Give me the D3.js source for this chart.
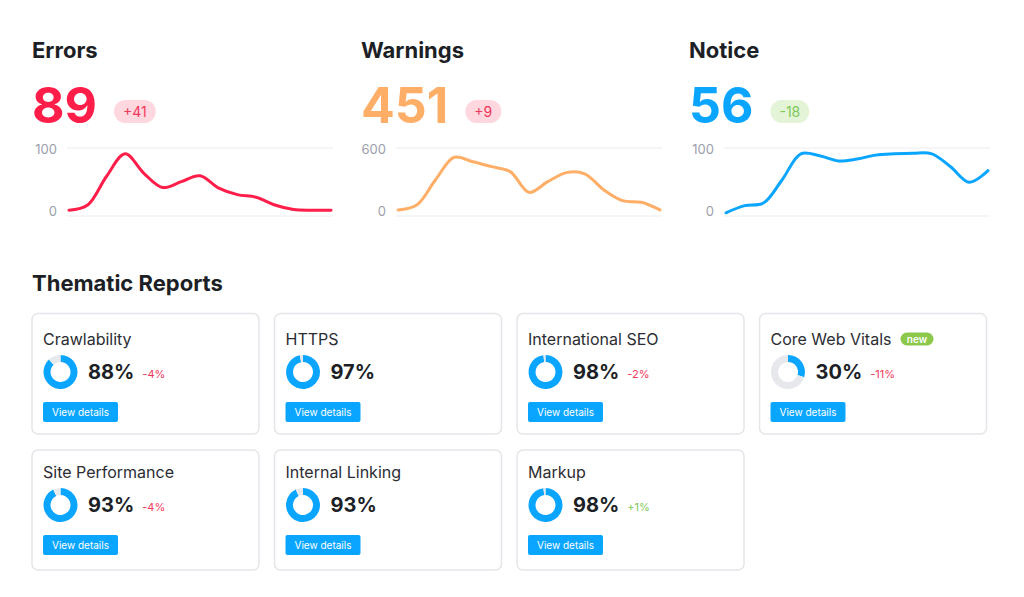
<!DOCTYPE html>
<html>
<head>
<meta charset="utf-8">
<script src="https://cdn.jsdelivr.net/npm/d3@7"></script>
<style>
  html, body { margin: 0; padding: 0; background: #fff; }
  svg { display: block; font-family: Inter, "Noto Sans", sans-serif; }
</style>
</head>
<body>
<svg id="chart" width="1024" height="597"></svg>
<script>
// Site audit overview: issue counters with trends + thematic report cards

const sections = ['Errors', 'Warnings', 'Notice'];
const totals = [89, 451, 56];
const totalDeltas = ['+41', '+9', '-18'];
const axisMax = [100, 600, 100];
const sectionColors = ['#ff1d4a', '#ffae68', '#0aa5ff'];

const errorsTrend = [4, 12, 56, 91, 61, 39, 48, 57, 38, 28, 24, 12, 5, 4, 4];
const warningsTrend = [26, 72, 304, 514, 473, 427, 381, 189, 288, 372, 359, 211, 112, 97, 26];
const noticeTrend = [0, 11, 15, 51, 91, 88, 80, 83, 89, 91, 92, 91, 71, 47, 65];
const trends = [errorsTrend, warningsTrend, noticeTrend];

const reportNames = ['Crawlability', 'HTTPS', 'International SEO', 'Core Web Vitals',
  'Site Performance', 'Internal Linking', 'Markup'];
const reportScores = [88, 97, 98, 30, 93, 93, 98];
const reportDeltas = ['-4%', '', '-2%', '-11%', '-4%', '', '+1%'];
const newReports = ['Core Web Vitals'];

const svg = d3.select('#chart');
svg.append('rect').attr('width', 1024).attr('height', 597).attr('fill', '#fff');

// верхние три блока
const colX = [32, 361, 689];

sections.forEach((name, i) => {
  const col = colX[i];
  const g = svg.append('g');

  g.append('text')
    .attr('x', col).attr('y', 57.5)
    .attr('font-size', 22).attr('font-weight', 700)
    .attr('fill', '#1d1f26')
    .text(name);

  const big = g.append('text')
    .attr('x', col).attr('y', 123)
    .attr('font-size', 50).attr('font-weight', 700)
    .attr('fill', sectionColors[i])
    .text(totals[i]);

  const bigW = big.node().getComputedTextLength();
  const positive = totalDeltas[i].startsWith('+');
  const badge = g.append('g').attr('transform', `translate(${col + bigW + 17}, 100)`);
  const badgeText = badge.append('text')
    .attr('x', 9).attr('y', 11.5).attr('dy', '0.36em')
    .attr('font-size', 14)
    .attr('fill', positive ? '#f0385a' : '#7fc85a')
    .text(totalDeltas[i]);
  const tw = badgeText.node().getComputedTextLength();
  badge.insert('rect', 'text')
    .attr('width', tw + 18).attr('height', 23).attr('rx', 11.5)
    .attr('fill', positive ? '#ffd7de' : '#e3f4d7');

  // мини-график
  const data = trends[i];
  const x = d3.scaleLinear().domain([0, data.length - 1]).range([col + 37, col + 299]);
  const y = d3.scaleLinear().domain([-axisMax[i] * 0.05, axisMax[i]]).range([216, 148]);

  g.append('line')
    .attr('x1', col + 35).attr('x2', col + 301)
    .attr('y1', y(axisMax[i])).attr('y2', y(axisMax[i]))
    .attr('stroke', '#ebecf0').attr('stroke-width', 1);
  g.append('line')
    .attr('x1', col + 35).attr('x2', col + 301)
    .attr('y1', y.range()[0]).attr('y2', y.range()[0])
    .attr('stroke', '#ebecf0').attr('stroke-width', 1);

  g.selectAll('.tick-label')
    .data([0, axisMax[i]])
    .enter().append('text')
    .attr('class', 'tick-label')
    .attr('x', col + 25)
    .attr('y', d => y(d) + (d === 0 ? -1 : 1.5))
    .attr('dy', '0.35em')
    .attr('text-anchor', 'end')
    .attr('font-size', 13)
    .attr('fill', '#9b9eaa')
    .text(d => d);

  const line = d3.line()
    .x((d, j) => x(j))
    .y(d => y(d))
    .curve(d3.curveCatmullRom.alpha(0.5));

  g.append('path')
    .datum(data)
    .attr('d', line)
    .attr('fill', 'none')
    .attr('stroke', sectionColors[i])
    .attr('stroke-width', 3)
    .attr('stroke-linecap', 'round')
    .attr('stroke-linejoin', 'round');
});

// Thematic Reports
svg.append('text')
  .attr('x', 32).attr('y', 291)
  .attr('font-size', 22).attr('font-weight', 700)
  .attr('fill', '#1d1f26')
  .text('Thematic Reports');

const cardW = 227, cardStep = 242.5;
const cardTops = [313.5, 450];
const contentTops = [313.5, 446.5];
const arc = d3.arc().innerRadius(10).outerRadius(17);
const pie = d3.pie().sort(null).value(d => d);

reportNames.forEach((name, i) => {
  const row = Math.floor(i / 4);
  const cx = 32 + (i % 4) * cardStep;
  const top = contentTops[row];
  const card = svg.append('g');

  card.append('rect')
    .attr('x', cx).attr('y', cardTops[row])
    .attr('width', cardW).attr('height', row === 0 ? 120.5 : 120)
    .attr('rx', 6)
    .attr('fill', '#fff')
    .attr('stroke', '#e4e6ea').attr('stroke-width', 1.5);

  const title = card.append('text')
    .attr('x', cx + 11).attr('y', top + 31)
    .attr('font-size', 16)
    .attr('fill', '#2b2d33')
    .text(name);

  if (newReports.includes(name)) {
    const tEnd = cx + 11 + title.node().getComputedTextLength();
    const nb = card.append('g').attr('transform', `translate(${tEnd + 9}, ${top + 19})`);
    nb.append('rect').attr('width', 33).attr('height', 13).attr('rx', 6.5).attr('fill', '#8cc84b');
    nb.append('text')
      .attr('x', 16.5).attr('y', 6.5).attr('dy', '0.35em')
      .attr('text-anchor', 'middle')
      .attr('font-size', 10).attr('font-weight', 600)
      .attr('fill', '#fff')
      .text('new');
  }

  // кольцевая диаграмма
  const donut = card.append('g').attr('transform', `translate(${cx + 28.5}, ${top + 58.5})`);
  donut.selectAll('path')
    .data(pie([reportScores[i], 100 - reportScores[i]]))
    .enter().append('path')
    .attr('d', arc)
    .attr('fill', (d, j) => j === 0 ? '#0aa5ff' : '#e6e8ec');

  const pct = card.append('text')
    .attr('x', cx + 56).attr('y', top + 65)
    .attr('font-size', 20).attr('font-weight', 700)
    .attr('fill', '#1d1f26')
    .text(reportScores[i] + '%');

  if (reportDeltas[i]) {
    const pEnd = cx + 56 + pct.node().getComputedTextLength();
    card.append('text')
      .attr('x', pEnd + 8).attr('y', top + 64.5)
      .attr('font-size', 11)
      .attr('fill', reportDeltas[i].startsWith('+') ? '#7fc85a' : '#f0385a')
      .text(reportDeltas[i]);
  }

  card.append('rect')
    .attr('x', cx + 11).attr('y', top + 88.5)
    .attr('width', 75).attr('height', 20).attr('rx', 2)
    .attr('fill', '#0aa5ff');
  card.append('text')
    .attr('x', cx + 48.5).attr('y', top + 98.5).attr('dy', '0.35em')
    .attr('text-anchor', 'middle')
    .attr('font-size', 10)
    .attr('fill', '#fff')
    .text('View details');
});
</script>
</body>
</html>
